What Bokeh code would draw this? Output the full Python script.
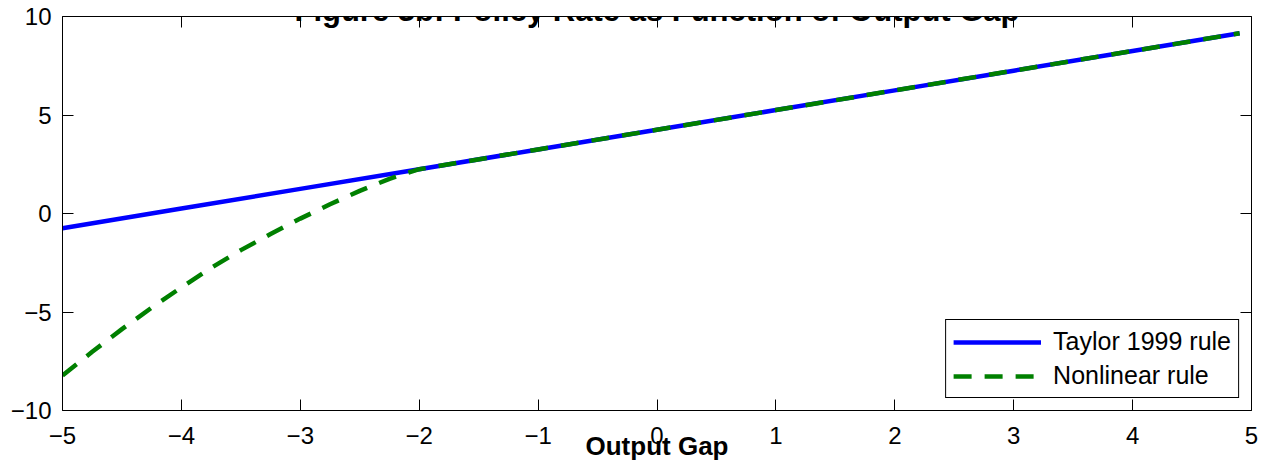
from bokeh.plotting import figure
from bokeh.models import (ColumnDataSource, FixedTicker, LinearAxis, Label,
                          Legend, LegendItem, Range1d)
from bokeh.embed import file_html
from bokeh.resources import INLINE

# ---------------- data ----------------
title_text = "Figure 3b: Policy Rate as Function of Output Gap"
x_label_text = "Output Gap"
legend_labels = ["Taylor 1999 rule", "Nonlinear rule"]

x_taylor = [-5, -4, -3, -2, -1, 0, 1, 2, 3, 4, 4.9]
y_taylor = [-0.75, 0.25, 1.25, 2.25, 3.25, 4.25, 5.25, 6.25, 7.25, 8.25, 9.15]

x_nonlin = [-5.0, -4.75, -4.5, -4.25, -4.0, -3.75, -3.5, -3.25, -3.0, -2.75,
            -2.5, -2.25, -2.0, -1, 0, 1, 2, 3, 4, 4.9]
y_nonlin = [-8.22, -7.02, -5.87, -4.78, -3.75, -2.76, -1.86, -1.04, -0.26, 0.47,
            1.15, 1.76, 2.25, 3.25, 4.25, 5.25, 6.25, 7.25, 8.25, 9.15]

x_ticks = [-5, -4, -3, -2, -1, 0, 1, 2, 3, 4, 5]
x_tick_labels = ["\u22125", "\u22124", "\u22123", "\u22122", "\u22121",
                 "0", "1", "2", "3", "4", "5"]
y_ticks = [-10, -5, 0, 5, 10]
y_tick_labels = ["\u221210", "\u22125", "0", "5", "10"]

# ---------------- figure ----------------
FONT = "Liberation Sans"
TICK_SIZE = "24px"

p = figure(width=1271, height=465, output_backend="svg", toolbar_location=None,
           x_range=Range1d(-5, 5), y_range=Range1d(-10, 10),
           x_axis_location=None, y_axis_location=None)
p.min_border_left = 62
p.min_border_right = 20
p.min_border_top = 16
p.min_border_bottom = 55
p.outline_line_color = None
p.xgrid.visible = False
p.ygrid.visible = False
p.background_fill_color = "white"
p.border_fill_color = "white"


def style_axis(ax, ticks, labels, show_labels, standoff):
    ax.ticker = FixedTicker(ticks=ticks)
    ax.major_tick_in = 11
    ax.major_tick_out = 0
    ax.minor_tick_line_color = None
    ax.axis_line_color = "black"
    ax.axis_line_width = 1
    ax.major_tick_line_color = "black"
    ax.major_tick_line_width = 1
    if show_labels:
        ax.major_label_overrides = {t: l for t, l in zip(ticks, labels)}
        ax.major_label_text_font = FONT
        ax.major_label_text_font_size = TICK_SIZE
        ax.major_label_text_color = "black"
        ax.major_label_standoff = standoff
    else:
        ax.major_label_text_font_size = "0px"
        ax.major_label_text_alpha = 0


bottom = LinearAxis()
left = LinearAxis()
top = LinearAxis()
right = LinearAxis()
style_axis(bottom, x_ticks, x_tick_labels, True, 16)
style_axis(left, y_ticks, y_tick_labels, True, 11)
style_axis(top, x_ticks, x_tick_labels, False, 0)
style_axis(right, y_ticks, y_tick_labels, False, 0)

bottom.axis_label = x_label_text
bottom.axis_label_text_font = FONT
bottom.axis_label_text_font_style = "bold"
bottom.axis_label_text_font_size = "26px"
bottom.axis_label_text_color = "black"
bottom.axis_label_standoff = -16

p.add_layout(bottom, "below")
p.add_layout(left, "left")
p.add_layout(top, "above")
p.add_layout(right, "right")

src_t = ColumnDataSource(dict(x=x_taylor, y=y_taylor))
src_n = ColumnDataSource(dict(x=x_nonlin, y=y_nonlin))

r_t = p.line("x", "y", source=src_t, line_color="#0000ff", line_width=4.5)
r_n = p.line("x", "y", source=src_n, line_color="#008000", line_width=4.5,
             line_dash="18 13")

legend = Legend(items=[LegendItem(label=legend_labels[0], renderers=[r_t]),
                       LegendItem(label=legend_labels[1], renderers=[r_n])],
                location="bottom_right")
legend.margin = 12
legend.padding = 7
legend.spacing = 5
legend.glyph_width = 88
legend.glyph_height = 28
legend.label_height = 28
legend.label_standoff = 12
legend.label_text_font = FONT
legend.label_text_font_size = "25px"
legend.label_text_color = "black"
legend.border_line_color = "black"
legend.border_line_alpha = 1
legend.border_line_width = 1
legend.background_fill_color = "white"
legend.background_fill_alpha = 1
p.add_layout(legend, "center")

title = Label(x=0, y=10.28, text=title_text, text_align="center",
              text_baseline="alphabetic", text_font=FONT,
              text_font_style="bold", text_font_size="31px",
              text_color="black")
p.add_layout(title)

open("out.html", "w").write(file_html(p, INLINE))
